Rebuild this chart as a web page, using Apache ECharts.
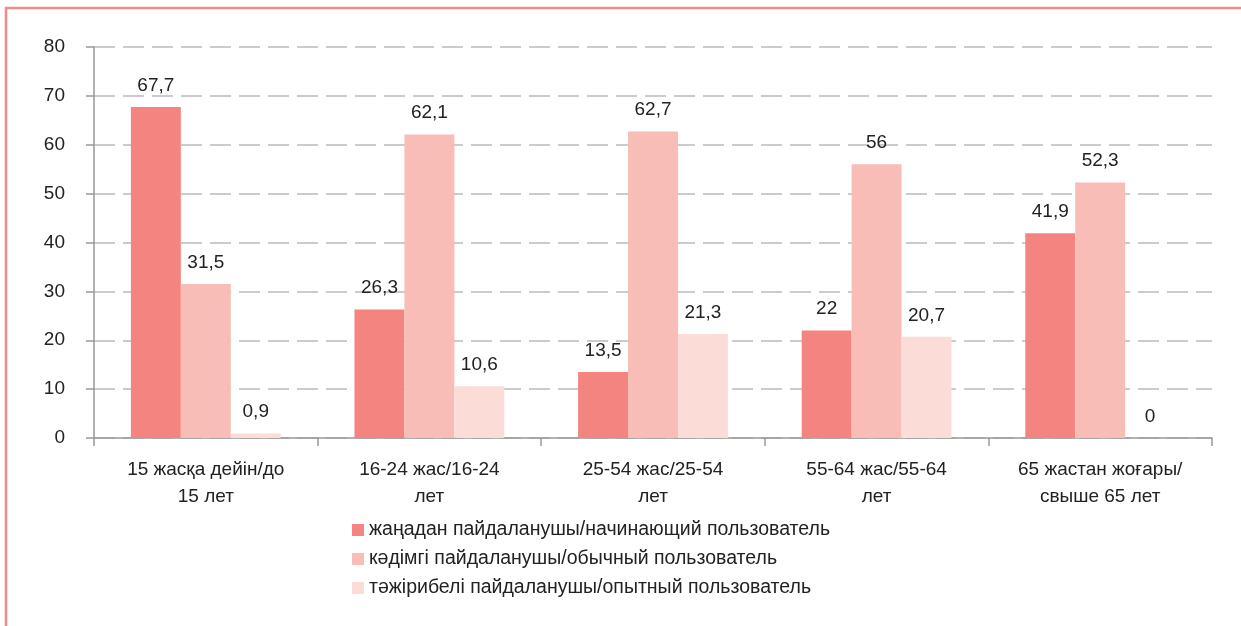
<!DOCTYPE html>
<html>
<head>
<meta charset="utf-8">
<script src="https://cdn.jsdelivr.net/npm/echarts@6/dist/echarts.min.js"></script>
<style>
  html, body { margin: 0; padding: 0; background: #fff; }
  #chart { width: 1241px; height: 626px; }
</style>
</head>
<body>
<div id="chart"></div>
<script>
const categories = [
  '15 жасқа дейін/до\n15 лет',
  '16-24 жас/16-24\nлет',
  '25-54 жас/25-54\nлет',
  '55-64 жас/55-64\nлет',
  '65 жастан жоғары/\nсвыше 65 лет'
];
const beginners = [67.7, 26.3, 13.5, 22, 41.9];
const regulars = [31.5, 62.1, 62.7, 56, 52.3];
const experienced = [0.9, 10.6, 21.3, 20.7, 0];
const seriesNames = [
  'жаңадан пайдаланушы/начинающий пользователь',
  'кәдімгі пайдаланушы/обычный пользователь',
  'тәжірибелі пайдаланушы/опытный пользователь'
];
const colors = ['#f4847f', '#f8bdb7', '#fbdcd7'];

const myChart = echarts.init(document.getElementById('chart'));

// запятая вместо точки
const fmt = (p) => String(p.value).replace('.', ',');

const mkSeries = (name, data, color) => ({
  name: name,
  type: 'bar',
  data: data,
  barGap: '0%',
  barCategoryGap: '33%',
  itemStyle: { color: color },
  label: {
    show: true,
    position: 'top',
    distance: 12,
    fontSize: 19,
    color: '#222',
    formatter: fmt
  }
});

const option = {
  textStyle: { fontFamily: 'Liberation Sans, Arial, sans-serif' },
  // рамка слева и сверху
  graphic: [
    {
      type: 'polyline',
      shape: { points: [[6, 700], [6, 8], [1241, 8]] },
      style: { fill: 'none', stroke: '#f28b87', lineWidth: 2.5 },
      silent: true
    }
  ],
  legend: {
    orient: 'vertical',
    left: 347,
    top: 515,
    itemWidth: 12,
    itemHeight: 12,
    itemGap: 9,
    icon: 'rect',
    textStyle: { fontSize: 19.5, color: '#222', lineHeight: 20 }
  },
  grid: {
    left: 94,
    right: 29,
    top: 47,
    bottom: 188
  },
  xAxis: {
    type: 'category',
    data: categories,
    axisLine: { lineStyle: { color: '#999', width: 1.5 } },
    axisTick: { show: true, length: 8, lineStyle: { color: '#999', width: 1.5 } },
    axisLabel: { fontSize: 19, color: '#222', lineHeight: 27, margin: 18 }
  },
  yAxis: {
    type: 'value',
    min: 0,
    max: 80,
    interval: 10,
    axisLine: { show: true, lineStyle: { color: '#999', width: 1.5 } },
    axisTick: { show: true, length: 8, lineStyle: { color: '#999', width: 1.5 } },
    axisLabel: { fontSize: 19, color: '#222', margin: 29 },
    splitLine: {
      lineStyle: { color: '#bbb', width: 1.5, type: [21, 8] }
    }
  },
  series: [
    mkSeries(seriesNames[0], beginners, colors[0]),
    mkSeries(seriesNames[1], regulars, colors[1]),
    mkSeries(seriesNames[2], experienced, colors[2])
  ]
};
option && myChart.setOption(option);
</script>
</body>
</html>
